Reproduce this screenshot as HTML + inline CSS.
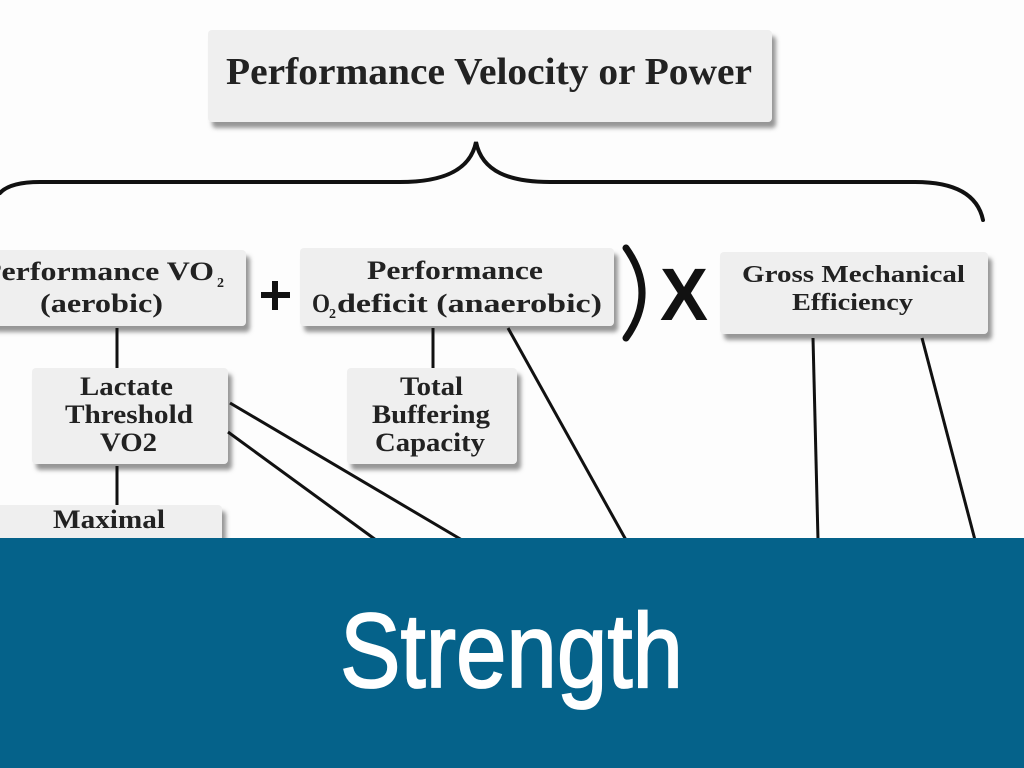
<!DOCTYPE html>
<html>
<head>
<meta charset="utf-8">
<style>
  html, body { margin:0; padding:0; background:#ffffff; }
  body { width:1024px; height:768px; overflow:hidden; position:relative; }
  svg { display:block; }
</style>
</head>
<body>
<svg width="1024" height="768" viewBox="0 0 1024 768" xmlns="http://www.w3.org/2000/svg">
  <defs>
    <filter id="sh" x="-10%" y="-20%" width="125%" height="150%">
      <feDropShadow dx="4" dy="6" stdDeviation="2.2" flood-color="#8a8a8a" flood-opacity="0.9"/>
    </filter>
  </defs>
  <rect x="0" y="0" width="1024" height="768" fill="#fdfdfd"/>

  <!-- boxes -->
  <g fill="#efefef" filter="url(#sh)">
    <rect x="208" y="30" width="564" height="92" rx="4"/>
    <rect x="-10" y="250" width="256" height="76" rx="4"/>
    <rect x="300" y="248" width="314" height="78" rx="4"/>
    <rect x="720" y="252" width="268" height="82" rx="4"/>
    <rect x="32" y="368" width="196" height="96" rx="4"/>
    <rect x="347" y="368" width="170" height="96" rx="4"/>
    <rect x="-10" y="505" width="232" height="60" rx="4"/>
  </g>

  <!-- brace -->
  <path d="M0 193 Q 10 182 40 182 L 400 182 C 440 182 470 172 476 142 C 482 172 510 182 550 182 L 915 182 Q 975 182 983 220"
        fill="none" stroke="#111" stroke-width="4" stroke-linecap="round"/>

  <!-- connector lines -->
  <g stroke="#111" stroke-width="3" fill="none">
    <line x1="117" y1="328" x2="117" y2="368"/>
    <line x1="117" y1="466" x2="117" y2="505"/>
    <line x1="433" y1="328" x2="433" y2="368"/>
    <line x1="230" y1="403" x2="462" y2="540"/>
    <line x1="228" y1="432" x2="376" y2="540"/>
    <line x1="508" y1="328" x2="626" y2="540"/>
    <line x1="813" y1="338" x2="818" y2="540"/>
    <line x1="922" y1="338" x2="975" y2="540"/>
  </g>

  <!-- plus -->
  <rect x="261" y="292" width="29" height="6" fill="#111"/>
  <rect x="272" y="281" width="6" height="29" fill="#111"/>

  <!-- paren -->
  <path d="M626 248 Q 658 293 626 338" fill="none" stroke="#111" stroke-width="7" stroke-linecap="round"/>

  <!-- X -->
  <text x="660" y="320" font-family="Liberation Sans, sans-serif" font-weight="bold" font-size="74" textLength="48" lengthAdjust="spacingAndGlyphs" fill="#111">X</text>

  <!-- texts -->
  <g font-family="Liberation Serif, serif" font-weight="bold" fill="#222">
    <text x="226" y="84" font-size="38" textLength="526" lengthAdjust="spacingAndGlyphs">Performance Velocity or Power</text>

    <text x="-18" y="280" font-size="26" textLength="232" lengthAdjust="spacingAndGlyphs">Performance VO</text>
    <text x="217" y="287" font-size="14">2</text>
    <text x="40" y="312" font-size="26" textLength="123" lengthAdjust="spacingAndGlyphs">(aerobic)</text>

    <text x="367" y="279" font-size="26" textLength="176" lengthAdjust="spacingAndGlyphs">Performance</text>
    <text x="312" y="312" font-size="26" textLength="18" lengthAdjust="spacingAndGlyphs">O</text>
    <text x="329" y="318" font-size="14">2</text>
    <text x="337" y="312" font-size="26" textLength="265" lengthAdjust="spacingAndGlyphs">deficit (anaerobic)</text>

    <text x="742" y="282" font-size="24" textLength="223" lengthAdjust="spacingAndGlyphs">Gross Mechanical</text>
    <text x="792" y="310" font-size="24" textLength="121" lengthAdjust="spacingAndGlyphs">Efficiency</text>

    <text x="80" y="395" font-size="26" textLength="93" lengthAdjust="spacingAndGlyphs">Lactate</text>
    <text x="65" y="423" font-size="26" textLength="128" lengthAdjust="spacingAndGlyphs">Threshold</text>
    <text x="100" y="451" font-size="26" textLength="57" lengthAdjust="spacingAndGlyphs">VO2</text>

    <text x="400" y="395" font-size="26" textLength="63" lengthAdjust="spacingAndGlyphs">Total</text>
    <text x="372" y="423" font-size="26" textLength="118" lengthAdjust="spacingAndGlyphs">Buffering</text>
    <text x="375" y="451" font-size="26" textLength="110" lengthAdjust="spacingAndGlyphs">Capacity</text>

    <text x="53" y="528" font-size="26" textLength="112" lengthAdjust="spacingAndGlyphs">Maximal</text>
  </g>

  <!-- banner -->
  <rect x="0" y="538" width="1024" height="230" fill="#05628a"/>
  <g transform="translate(340 687) scale(1 1.15)">
    <text x="0" y="0" font-family="Liberation Sans, sans-serif" font-size="92" textLength="343" lengthAdjust="spacingAndGlyphs" fill="#ffffff" stroke="#ffffff" stroke-width="1.6">Strength</text>
  </g>
</svg>
</body>
</html>
